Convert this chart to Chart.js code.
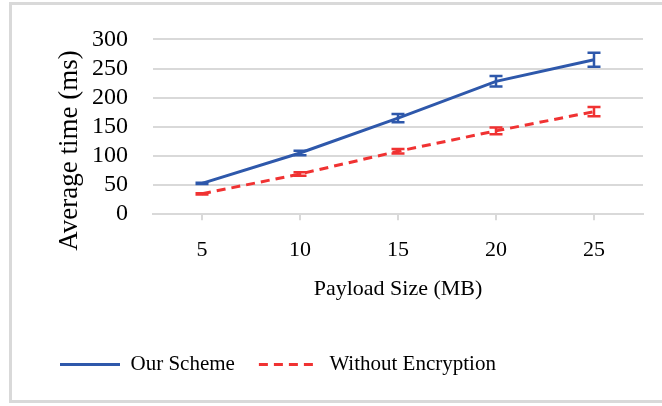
<!DOCTYPE html>
<html>
<head>
<meta charset="utf-8">
<script src="https://cdn.jsdelivr.net/npm/chart.js@4"></script>
<style>
  html, body { margin: 0; padding: 0; background: #fff; overflow: hidden; }
  #frame { position: absolute; left: 9px; top: 2px; width: 700px; height: 395px; border: 3px solid #d9d9d9; }
  #wrap { position: absolute; left: 0; top: 0; width: 662px; height: 406px; }
</style>
</head>
<body>
<div id="frame"></div>
<div id="wrap"><canvas id="chart"></canvas></div>
<script>
// payload sizes (MB)
var payloadSizes = ['5', '10', '15', '20', '25'];
// average time (ms) and error bar half-heights
var ourScheme = [53, 105, 165, 228, 265];
var ourSchemeErr = [1, 4, 7, 9, 12];
var withoutEncryption = [35, 69, 108, 143, 176];
var withoutEncryptionErr = [1, 3, 4, 6, 8];
var yTicks = [0, 50, 100, 150, 200, 250, 300];

var BLUE = '#2e58ab';
var RED = '#f03232';
var GRID = '#d9d9d9';
var FONT = '"Liberation Serif", "Times New Roman", serif';

// draws the error bars through the chart scales
var errorBars = {
  id: 'errorBars',
  afterDatasetsDraw: function (chart) {
    var ctx = chart.ctx;
    var xs = chart.scales.x, ys = chart.scales.y;
    chart.data.datasets.forEach(function (ds) {
      if (!ds.errors) return;
      ctx.save();
      ctx.strokeStyle = ds.borderColor;
      ctx.lineWidth = 2.5;
      ctx.setLineDash([]);
      ds.data.forEach(function (v, i) {
        var x = xs.getPixelForValue(i);
        var top = ys.getPixelForValue(v + ds.errors[i]);
        var bot = ys.getPixelForValue(v - ds.errors[i]);
        ctx.beginPath();
        ctx.moveTo(x, top); ctx.lineTo(x, bot);
        ctx.moveTo(x - 6.5, top); ctx.lineTo(x + 6.5, top);
        ctx.moveTo(x - 6.5, bot); ctx.lineTo(x + 6.5, bot);
        ctx.stroke();
      });
      ctx.restore();
    });
  }
};

new Chart(document.getElementById('chart'), {
  type: 'line',
  data: {
    labels: payloadSizes,
    datasets: [
      {
        label: 'Our Scheme',
        data: ourScheme,
        errors: ourSchemeErr,
        borderColor: BLUE,
        backgroundColor: BLUE,
        borderWidth: 3,
        pointRadius: 0,
        tension: 0
      },
      {
        label: 'Without Encryption',
        data: withoutEncryption,
        errors: withoutEncryptionErr,
        borderColor: RED,
        backgroundColor: RED,
        borderWidth: 3,
        borderDash: [9, 6],
        pointRadius: 0,
        tension: 0
      }
    ]
  },
  options: {
    responsive: true,
    maintainAspectRatio: false,
    animation: false,
    layout: { padding: { top: 26, right: 19, bottom: 21, left: 36 } },
    plugins: {
      legend: {
        position: 'bottom',
        align: 'start',
        labels: {
          usePointStyle: true,
          pointStyle: 'line',
          pointStyleWidth: 60,
          boxHeight: 20,
          padding: 24,
          color: '#000',
          font: { family: FONT, size: 21 },
          generateLabels: function (chart) {
            var items = Chart.defaults.plugins.legend.labels.generateLabels(chart);
            items.forEach(function (it) {
              var ds = chart.data.datasets[it.datasetIndex];
              it.lineDash = ds.borderDash || [];
              it.lineWidth = 3;
            });
            return items;
          }
        }
      },
      tooltip: { enabled: false }
    },
    scales: {
      x: {
        offset: true,
        grid: { offset: false, drawOnChartArea: false, drawTicks: true, tickLength: 6, color: GRID, lineWidth: 2 },
        border: { display: true, color: GRID, width: 2 },
        ticks: { color: '#000', padding: 17, font: { family: FONT, size: 22 } },
        title: { display: true, text: 'Payload Size (MB)', color: '#000', padding: { top: -5, bottom: 28 }, font: { family: FONT, size: 22 } }
      },
      y: {
        min: 0,
        max: 300,
        afterBuildTicks: function (axis) { axis.ticks = yTicks.map(function (v) { return { value: v }; }); },
        afterFit: function (axis) { axis.width = 117; },
        grid: { color: GRID, lineWidth: 2, drawTicks: false },
        border: { display: false },
        ticks: { color: '#000', padding: 25, autoSkip: false, font: { family: FONT, size: 24 } },
        // trailing spaces push the centred title down, as in the original
        title: { display: true, text: 'Average time (ms)       ', color: '#000', padding: { top: 18, bottom: 0 }, font: { family: FONT, size: 27 } }
      }
    }
  },
  plugins: [errorBars]
});
</script>
</body>
</html>
